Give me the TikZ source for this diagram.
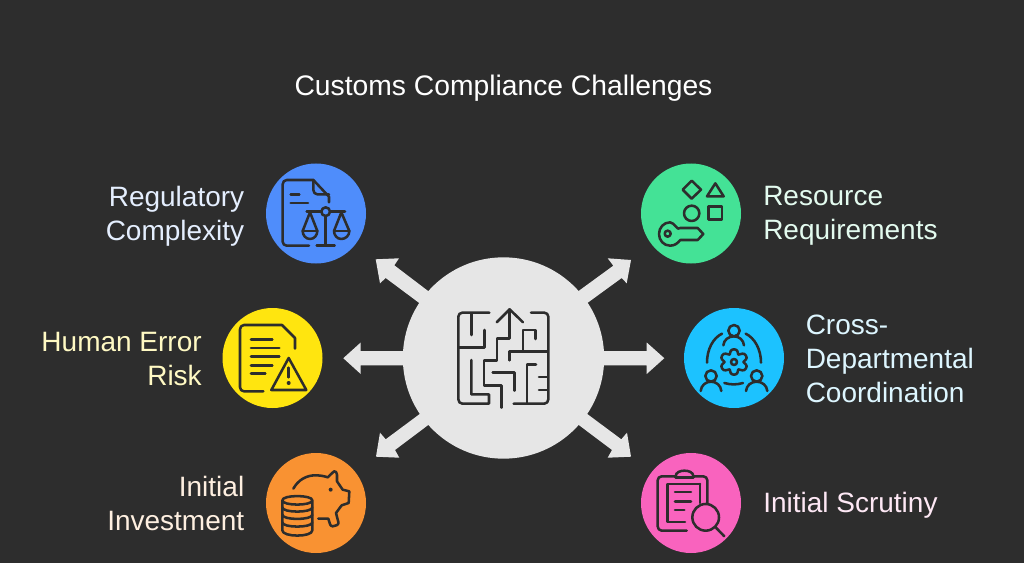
\documentclass[tikz,border=0pt]{standalone}
\usepackage{fontspec}
\setmainfont{Liberation Sans}
\definecolor{bg}{HTML}{2D2D2D}
\definecolor{hub}{HTML}{E6E6E6}
\definecolor{ink}{HTML}{2D2D2D}
\definecolor{cblue}{HTML}{4F8DFB}
\definecolor{cgreen}{HTML}{44E296}
\definecolor{cyellow}{HTML}{FFE50F}
\definecolor{ccyan}{HTML}{1CC2FF}
\definecolor{corange}{HTML}{F99232}
\definecolor{cpink}{HTML}{F963BE}
\tikzset{
 disc/.style={circle,minimum size=75pt,inner sep=0pt},
 hubdisc/.style={circle,fill=hub,minimum size=151pt,inner sep=0pt},
 lbl/.style={font=\fontsize{21}{25.5}\selectfont,align=left,anchor=west,inner sep=0pt},
 lblr/.style={font=\fontsize{21}{25.5}\selectfont,align=right,anchor=east,inner sep=0pt},
 ttl/.style={font=\fontsize{21.2}{24}\selectfont,text=white,inner sep=0pt},
 arrowshape/.style={fill=hub,draw=none},
 ic/.style={draw=ink,line width=1.9pt,line cap=round,line join=round},
 icon/.style={x=0.25pt,y=-0.25pt}
}
\begin{document}
\begin{tikzpicture}[x=0.75pt,y=-0.75pt]
\useasboundingbox (0,0) rectangle (1024,563);
\fill[bg] (0,0) rectangle (1024,563);
\node[ttl] (title) at (503.5,88) {Customs Compliance Challenges};
% arrows
\fill[arrowshape] (503,351) -- (360.7,351) -- (360.7,342.5) -- (343.3,358.2) -- (360.7,374) -- (360.7,365.3) -- (503,365.3) -- cycle;
\fill[arrowshape] (503,351) -- (646.7,351) -- (646.7,342.5) -- (664.3,358.2) -- (646.7,374) -- (646.7,365.3) -- (503,365.3) -- cycle;
\fill[arrowshape] (500,358) -- (418.3,302.3) -- (385.7,278) -- (380,283.3) -- (375.7,259.3) -- (399,258.3) -- (394.3,265.3) -- (427.7,290.7) -- (510,350) -- cycle;
\fill[arrowshape] (507,358) -- (588.3,302.3) -- (621.7,278) -- (626.7,283.3) -- (631,260) -- (607.7,258.3) -- (613.3,265.7) -- (579,290.7) -- (497,350) -- cycle;
\fill[arrowshape] (510,366) -- (427.3,425.7) -- (395,450) -- (399.3,457.7) -- (376,456.7) -- (380,432.7) -- (385.7,439.3) -- (419.3,414.3) -- (500,358) -- cycle;
\fill[arrowshape] (497,366) -- (579.7,425.7) -- (612,450) -- (607.7,457.7) -- (631,456.7) -- (627,432.7) -- (621.3,439.3) -- (587.7,414.3) -- (507,358) -- cycle;
\node[hubdisc] (hub) at (503.5,358) {};
\node[disc,fill=cblue] (d1) at (316,213.5) {};
\node[disc,fill=cgreen] (d2) at (691,213.5) {};
\node[disc,fill=cyellow] (d3) at (272.5,358) {};
\node[disc,fill=ccyan] (d4) at (734,358) {};
\node[disc,fill=corange] (d5) at (316,503) {};
\node[disc,fill=cpink] (d6) at (691,503) {};
\node[lblr,text=white!85!cblue] (t1) at (244.5,216) {Regulatory\\Complexity};
\node[lbl,text=white!85!cgreen] (t2) at (763,216) {Resource\\Requirements};
\node[lblr,text=white!75!cyellow] (t3) at (202,359.5) {Human Error\\Risk};
\node[lbl,text=white!85!ccyan] (t4) at (805.5,359) {Cross-\\Departmental\\Coordination};
\node[lblr,text=white!85!corange] (t5) at (244.5,503.5) {Initial\\Investment};
\node[lbl,text=white!85!cpink] (t6) at (763,505.5) {Initial Scrutiny};
% maze
\begin{scope}[shift={(400,240)},icon]
\draw[ic] (268,218) -- (187,218) to[out=180,in=90] (175,230) -- (175,478) to[out=-90,in=180] (187,491) -- (267,491) -- (267,463) -- (214,463) -- (214,360);
\draw[ic] (214,222) -- (214,285);
\draw[ic] (253,270) -- (253,323) -- (178,323);
\draw[ic] (329,208) -- (329,295) -- (291,295) -- (291,361) -- (252,361) -- (252,436) -- (304,436) -- (304,503);
\draw[ic] (290,247) -- (329,208) -- (369,247);
\draw[ic] (393,218) -- (433,218) to[out=0,in=90] (445,230) -- (445,478) to[out=-90,in=0] (433,491) -- (341,491);
\draw[ic] (407,297) -- (407,270) -- (369,270) -- (369,335);
\draw[ic] (329,361) -- (329,335) -- (443,335);
\draw[ic] (278,398) -- (343,398) -- (343,452);
\draw[ic] (408,373) -- (381,373) -- (381,488);
\draw[ic] (417,411) -- (443,411);
\draw[ic] (417,450) -- (443,450);
\end{scope}
% scales
\begin{scope}[shift={(260,155)},icon]
\draw[ic] (147,272) -- (80,272) to[out=180,in=-90] (68,260) -- (68,88) to[out=90,in=180] (80,75) -- (160,75) -- (207,125) -- (207,142);
\draw[ic] (160,75) -- (160,105) to[out=-90,in=180] (172,118) -- (207,118);
\draw[ic] (92,118) -- (118,118);
\draw[ic] (92,144) -- (144,144);
\draw[ic] (140,170) -- (182,170);
\draw[ic] (212,170) -- (255,170);
\draw[ic] (197,170) circle[radius=13];
\draw[ic] (197,184) -- (197,272);
\draw[ic] (170,272) -- (224,272);
\draw[ic] (150,172) -- (128,228) to[out=-90,in=180] (150,252) to[out=0,in=-90] (172,228) -- cycle;
\draw[ic] (128,228) -- (172,228);
\draw[ic] (244,172) -- (222,228) to[out=-90,in=180] (244,252) to[out=0,in=-90] (268,228) -- cycle;
\draw[ic] (222,228) -- (268,228);
\end{scope}
% shapes and key
\begin{scope}[shift={(635,155)},icon]
\draw[ic] (170,77) -- (198,104) -- (170,131) -- (143,104) -- cycle;
\draw[ic] (241,85) -- (266,124) -- (216,124) -- cycle;
\draw[ic] (170,175) circle[radius=23];
\draw[ic] (220,154) rectangle (261,194);
\draw[ic] (136,219) to[out=-130,in=0] (105,202) to[out=180,in=90] (72,237) to[out=-90,in=180] (105,272) to[out=0,in=-130] (136,255) -- (188,255) -- (205,237) -- (188,219) -- cycle;
\draw[ic] (98,236) circle[radius=9];
\end{scope}
% document and warning
\begin{scope}[shift={(218,302)},icon]
\draw[ic] (136,268) -- (78,268) to[out=180,in=-90] (66,256) -- (66,82) to[out=90,in=180] (78,69) -- (192,69) -- (231,108) -- (231,140);
\draw[ic] (99,113) -- (163,113);
\draw[ic] (99,138) -- (184,138);
\draw[ic] (99,164) -- (184,164);
\draw[ic] (99,190) -- (163,190);
\draw[ic] (99,215) -- (142,215);
\draw[ic] (212,168) -- (265,264) -- (160,264) -- cycle;
\draw[ic] (212,197) -- (212,226);
\fill[ink] (212,243) circle[radius=6];
\end{scope}
% people and gear
\begin{scope}[shift={(678,302)},icon]
\draw[ic] (168,86) circle[radius=17];
\draw[ic] (136,130) to[out=85,in=180] (168,103) to[out=0,in=95] (198,130);
\draw[ic] (99,222) circle[radius=17];
\draw[ic] (68,267) to[out=85,in=180] (99,239) to[out=0,in=95] (130,267);
\draw[ic] (236,222) circle[radius=17];
\draw[ic] (204,267) to[out=85,in=180] (236,239) to[out=0,in=95] (268,267);
\draw[ic] (132,95) .. controls (105,108) and (87,142) .. (87,182);
\draw[ic] (203,95) .. controls (230,108) and (249,142) .. (249,182);
\draw[ic] (139,243) to[out=-15,in=-165] (195,243);
\draw[ic] (168,180) circle[radius=9];
\draw[ic] (158,147) to[out=60,in=120] (178,147) -- (181,158) -- (193,155) to[out=20,in=40] (204,172) -- (196,180) -- (204,188) to[out=-40,in=-20] (193,205) -- (181,202) -- (178,213) to[out=-120,in=-60] (158,213) -- (155,202) -- (143,205) to[out=-160,in=-140] (132,188) -- (140,180) -- (132,172) to[out=140,in=160] (143,155) -- (155,158) -- cycle;
\end{scope}
% piggy bank
\begin{scope}[shift={(260,448)},icon]
\draw[ic] (100,122) .. controls (115,95) and (140,82) .. (165,82) .. controls (180,82) and (192,84) .. (203,88) -- (222,70) to[out=30,in=90] (231,80) -- (231,100) -- (248,125) -- (268,130) -- (266,165) -- (245,172) -- (228,195) -- (235,222) to[out=-70,in=0] (218,235) to[out=180,in=-60] (205,212) -- (175,212);
\fill[ink] (212,125) circle[radius=6];
\draw[ic] (67,157) .. controls (67,140) and (157,140) .. (157,157) .. controls (157,174) and (67,174) .. (67,157) -- (67,247) .. controls (67,268) and (157,268) .. (157,247) -- (157,157);
\draw[ic] (67,178) .. controls (67,195) and (157,195) .. (157,178);
\draw[ic] (67,200) .. controls (67,217) and (157,217) .. (157,200);
\draw[ic] (67,223) .. controls (67,240) and (157,240) .. (157,223);
\end{scope}
% clipboard and magnifier
\begin{scope}[shift={(635,448)},icon]
\draw[ic] (122,85) -- (80,85) to[out=180,in=90] (68,97) -- (68,235) to[out=-90,in=180] (80,248) -- (155,248);
\draw[ic] (175,85) -- (205,85) to[out=0,in=90] (217,97) -- (217,165);
\draw[ic] (122,85) to[out=90,in=180] (148,68) to[out=0,in=90] (175,85);
\draw[ic] (122,85) -- (122,88) -- (175,88) -- (175,85);
\draw[ic] (195,108) -- (97,108) -- (97,222) -- (150,222);
\draw[ic] (195,108) -- (195,165);
\draw[ic] (120,132) -- (168,132);
\draw[ic] (120,160) -- (168,160);
\draw[ic] (120,186) -- (148,186);
\draw[ic] (212,208) circle[radius=40];
\draw[ic] (240,236) -- (268,265);
\end{scope}
\end{tikzpicture}
\end{document}
